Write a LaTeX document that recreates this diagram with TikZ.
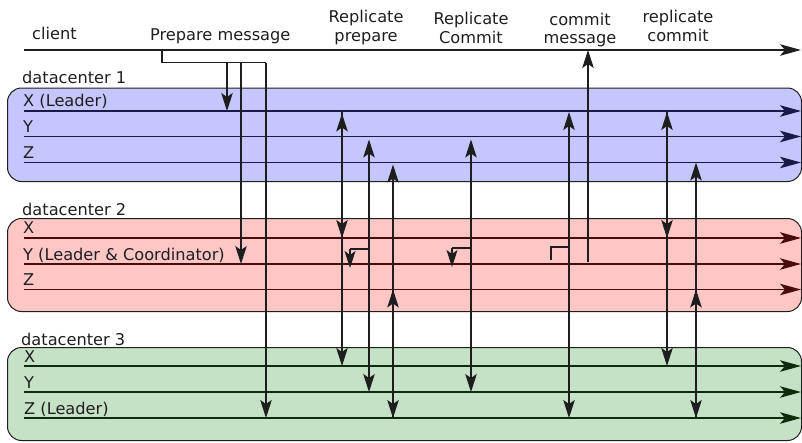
\documentclass[tikz,border=0pt]{standalone}
\usepackage{fontspec}
\setmainfont{DejaVu Sans}
\usetikzlibrary{arrows.meta}
\definecolor{dcone}{RGB}{198,198,255}
\definecolor{dctwo}{RGB}{255,198,198}
\definecolor{dcthree}{RGB}{198,226,198}
\definecolor{laneone}{RGB}{26,26,72}
\definecolor{lanetwo}{RGB}{72,12,12}
\definecolor{lanethree}{RGB}{12,44,12}
\definecolor{ink}{RGB}{30,30,30}
\begin{document}
\begin{tikzpicture}[x=1pt,y=-1pt,
  font=\fontsize{16.2}{19}\selectfont,
  lbl/.style={anchor=base west, inner sep=0pt, text=ink},
  ttl/.style={anchor=base, inner sep=0pt, text=ink},
  dcbox/.style={draw=ink, line width=1pt, rounded corners=14pt},
  lane/.style={line width=1.4pt, -{Stealth[length=21pt,width=11.5pt,inset=5pt]}},
  conn/.style={line width=1.2pt, draw=ink},
  dn/.style={-{Stealth[length=18pt,width=11.5pt,inset=4pt]}},
  both/.style={{Stealth[length=18pt,width=11.5pt,inset=4pt]}-{Stealth[length=18pt,width=11.5pt,inset=4pt]}},
  hk/.style={-{Stealth[length=17pt,width=11pt,inset=4pt]}},
]
\useasboundingbox (0,0) rectangle (802,442);

% datacenter boxes
\draw[dcbox, fill=dcone]   (7.5,88)  rectangle (801.5,181.5);
\draw[dcbox, fill=dctwo]   (7.5,218.5) rectangle (801.5,311.5);
\draw[dcbox, fill=dcthree] (7.5,347.5) rectangle (801.5,440.5);

% coordinates
\coordinate (cl) at (24,50);
\coordinate (endcol) at (801,0);
\coordinate (d1x) at (24,111);   \coordinate (d1y) at (24,136.5); \coordinate (d1z) at (24,162.5);
\coordinate (d2x) at (24,238);   \coordinate (d2y) at (24,264);   \coordinate (d2z) at (24,289.5);
\coordinate (d3x) at (24,366);   \coordinate (d3y) at (24,392);   \coordinate (d3z) at (24,418);
\coordinate (kA) at (342,0); \coordinate (kB) at (369,0); \coordinate (kC) at (393,0);
\coordinate (kD) at (471,0); \coordinate (kE) at (569,0); \coordinate (kF) at (588,0);
\coordinate (kG) at (667,0); \coordinate (kH) at (696,0);
\coordinate (hB) at (350,249); \coordinate (hBe) at (350,268);
\coordinate (hD) at (452,248); \coordinate (hDe) at (452,267);
\coordinate (hE) at (551,247); \coordinate (hEb) at (551,260);
\coordinate (pm) at (162,50); \coordinate (pbend) at (162,62.5);
\coordinate (pa) at (227,62.5); \coordinate (pb) at (241,62.5); \coordinate (pc) at (266,62.5);

% client line and lanes
\draw[lane, draw=ink] (cl) -- (cl -| endcol);
\draw[lane, laneone]   (d1x) -- (d1x -| endcol);
\draw[lane, laneone]   (d1y) -- (d1y -| endcol);
\draw[lane, laneone]   (d1z) -- (d1z -| endcol);
\draw[lane, lanetwo]   (d2x) -- (d2x -| endcol);
\draw[lane, lanetwo]   (d2y) -- (d2y -| endcol);
\draw[lane, lanetwo]   (d2z) -- (d2z -| endcol);
\draw[lane, lanethree] (d3x) -- (d3x -| endcol);
\draw[lane, lanethree] (d3y) -- (d3y -| endcol);
\draw[lane, lanethree] (d3z) -- (d3z -| endcol);

% texts
\node[lbl] (tclient) at (32,39) {client};
\node[lbl] (tprep) at (150,40) {Prepare message};
\node[ttl] (rp1) at (366,22) {Replicate};
\node[ttl] (rp2) at (366,41) {prepare};
\node[ttl] (rc1) at (471,24) {Replicate};
\node[ttl] (rc2) at (471,43) {Commit};
\node[ttl] (cm1) at (580,25) {commit};
\node[ttl] (cm2) at (580,43) {message};
\node[ttl] (rr1) at (678,22) {replicate};
\node[ttl] (rr2) at (678,41) {commit};
\node[lbl] (tdc1) at (22,83) {datacenter 1};
\node[lbl] (tdc2) at (22,215) {datacenter 2};
\node[lbl] (tdc3) at (21,345) {datacenter 3};
\node[lbl] (l1x) at (23,106) {X (Leader)};
\node[lbl] (l1y) at (23,132.5) {Y};
\node[lbl] (l1z) at (23,158.5) {Z};
\node[lbl] (l2x) at (23,233) {X};
\node[lbl] (l2y) at (23,260) {Y (Leader \& Coordinator)};
\node[lbl] (l2z) at (23,285.5) {Z};
\node[lbl] (l3x) at (24,362) {X};
\node[lbl] (l3y) at (24,388.5) {Y};
\node[lbl] (l3z) at (24,414.5) {Z (Leader)};

% prepare message
\draw[conn] (pm) -- (pbend) -- (pc);
\draw[conn,dn] (pa) -- (pa |- d1x);
\draw[conn,dn] (pb) -- (pb |- d2y);
\draw[conn,dn] (pc) -- (pc |- d3z);

% replicate prepare
\draw[conn, both, shorten <=2.5pt] (kA |- d1x) -- (kA |- d3x);
\draw[conn, dn] (kA |- d1x) -- (kA |- d2x);
\draw[conn, both, shorten <=3pt] (kB |- d1y) -- (kB |- d3y);
\draw[conn] (kB |- hB) -- (hB);
\draw[conn, hk] (hB) -- (hBe);
\draw[conn, both, shorten <=2pt] (kC |- d1z) -- (kC |- d3z);
\draw[conn, dn] (kC |- d3z) -- (kC |- d2z);

% replicate commit
\draw[conn, both, shorten <=3pt] (kD |- d1y) -- (kD |- d3y);
\draw[conn] (kD |- hD) -- (hD);
\draw[conn, hk] (hD) -- (hDe);

% commit message
\draw[conn, both, shorten <=1pt] (kE |- d1x) -- (kE |- d3z);
\draw[conn] (kE |- hE) -- (hE) -- (hEb);
\draw[conn, dn, shorten <=2pt] (kF |- d2y) -- (kF |- cl);

% replicate commit (second)
\draw[conn, both, shorten <=1pt] (kG |- d1x) -- (kG |- d3x);
\draw[conn, dn] (kG |- d1x) -- (kG |- d2x);
\draw[conn, both] (kH |- d1z) -- (kH |- d3z);
\draw[conn, dn] (kH |- d3z) -- (kH |- d2z);
\end{tikzpicture}
\end{document}
